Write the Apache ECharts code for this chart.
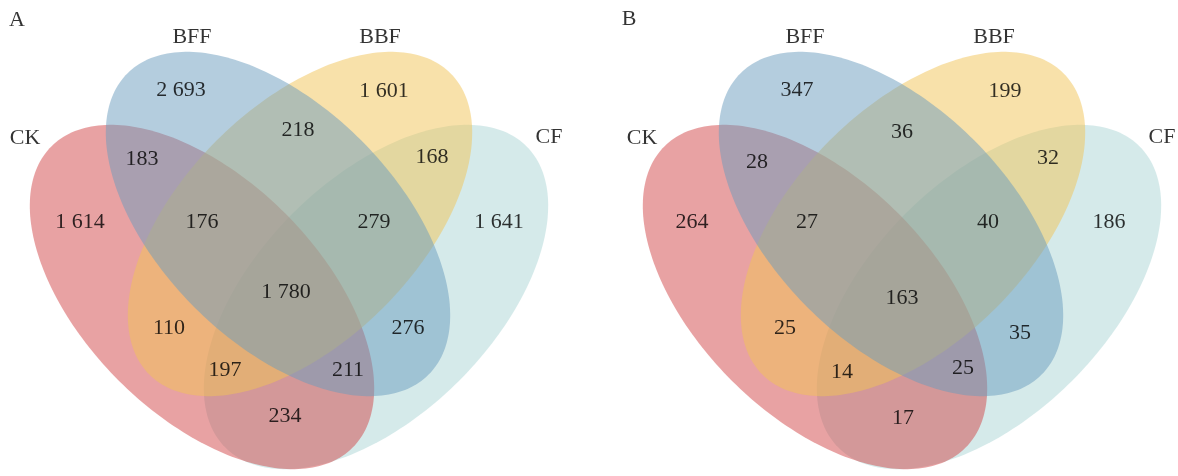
<!DOCTYPE html>
<html><head><meta charset="utf-8">
<script src="https://cdn.jsdelivr.net/npm/echarts@6/dist/echarts.min.js"></script>
<style>html,body{margin:0;padding:0;background:#fff}#c{width:1178px;height:476px}</style>
</head><body><div id="c"></div>
<script>
// ---------------- DATA ----------------
const panelTitles = ['A', 'B'];
const setNames = ['CK', 'BFF', 'BBF', 'CF'];
const regionKeys = ['CK', 'BFF', 'BBF', 'CF', 'CK&BFF', 'BFF&BBF', 'BBF&CF', 'CK&BFF&BBF',
  'BFF&BBF&CF', 'CK&BFF&BBF&CF', 'CK&BBF', 'BFF&CF', 'CK&BBF&CF', 'CK&BFF&CF', 'CK&CF'];
const valuesA = [1614, 2693, 1601, 1641, 183, 218, 168, 176, 279, 1780, 110, 276, 197, 211, 234];
const valuesB = [264, 347, 199, 186, 28, 36, 32, 27, 40, 163, 25, 35, 14, 25, 17];

// ---------------- LAYOUT (pixel-space data coordinates) ----------------
const panelOffset = [0, 613];
const ellipseGeom = {
  CK:  {cx: 202, cy: 297, a: 213, b: 118, rot: 45},
  BFF: {cx: 278, cy: 224, a: 213, b: 118, rot: 45},
  BBF: {cx: 300, cy: 224, a: 213, b: 118, rot: -45},
  CF:  {cx: 376, cy: 297, a: 213, b: 118, rot: -45}
};
const drawOrder = ['CF', 'CK', 'BBF', 'BFF'];
const setColors = {
  CK: 'rgba(209,69,71,0.5)',
  BFF: 'rgba(105,155,189,0.5)',
  BBF: 'rgba(241,195,85,0.5)',
  CF: 'rgba(171,213,213,0.5)'
};
const titlePos = [[17, 20], [629, 19]];
const setLabelPos = [
  {CK: [25, 138], BFF: [192, 37], BBF: [380, 37], CF: [549, 137]},
  {CK: [642, 138], BFF: [805, 37], BBF: [994, 37], CF: [1162, 137]}
];
const regionPos = [
  [[80,222],[181,90],[384,91],[499,222],[142,159],[298,130],[432,157],[202,222],[374,222],[286,292],[169,328],[408,328],[225,370],[348,370],[285,416]],
  [[692,222],[797,90],[1005,91],[1109,222],[757,162],[902,132],[1048,158],[807,222],[988,222],[902,298],[785,328],[1020,333],[842,372],[963,368],[903,418]]
];

function fmt(v) { return String(v).length > 3 ? String(v).replace(/\B(?=(\d{3})+(?!\d))/g, ' ') : String(v); }

// ellipse data items: [panelIndex, setIndex]
const ellipseData = [];
for (let p = 0; p < 2; p++) drawOrder.forEach(s => ellipseData.push([p, setNames.indexOf(s)]));

const labelData = [];
const allValues = [valuesA, valuesB];
for (let p = 0; p < 2; p++) {
  labelData.push({value: titlePos[p], name: panelTitles[p]});
  setNames.forEach(s => labelData.push({value: setLabelPos[p][s], name: s}));
  allValues[p].forEach((v, i) => labelData.push({value: regionPos[p][i], name: fmt(v)}));
}

const chart = echarts.init(document.getElementById('c'), null, {renderer: 'canvas'});
chart.setOption({
  animation: false,
  backgroundColor: '#ffffff',
  grid: {left: 0, right: 0, top: 0, bottom: 0},
  xAxis: {type: 'value', min: 0, max: 1178, show: false},
  yAxis: {type: 'value', min: 0, max: 476, inverse: true, show: false},
  series: [
    {
      type: 'custom',
      silent: true,
      data: ellipseData,
      renderItem: function (params, api) {
        const p = api.value(0);
        const name = setNames[api.value(1)];
        const g = ellipseGeom[name];
        const r = g.rot * Math.PI / 180;
        const ux = Math.cos(r), uy = Math.sin(r);
        const pts = [];
        const N = 240;
        for (let k = 0; k < N; k++) {
          const t = 2 * Math.PI * k / N;
          const ca = g.a * Math.cos(t), sb = g.b * Math.sin(t);
          const x = g.cx + panelOffset[p] + ca * ux - sb * uy;
          const y = g.cy + ca * uy + sb * ux;
          pts.push(api.coord([x, y]));
        }
        return {type: 'polygon', shape: {points: pts}, style: {fill: setColors[name], stroke: null}};
      },
      z: 1
    },
    {
      type: 'scatter',
      silent: true,
      symbolSize: 0,
      itemStyle: {color: 'transparent'},
      data: labelData,
      z: 5,
      label: {
        show: true,
        position: 'inside',
        formatter: d => d.name,
        fontFamily: 'Liberation Serif',
        fontSize: 22,
        color: '#000000',
        textBorderWidth: 0,
        textBorderColor: 'transparent',
        textShadowBlur: 0
      }
    }
  ]
});
</script></body></html>
